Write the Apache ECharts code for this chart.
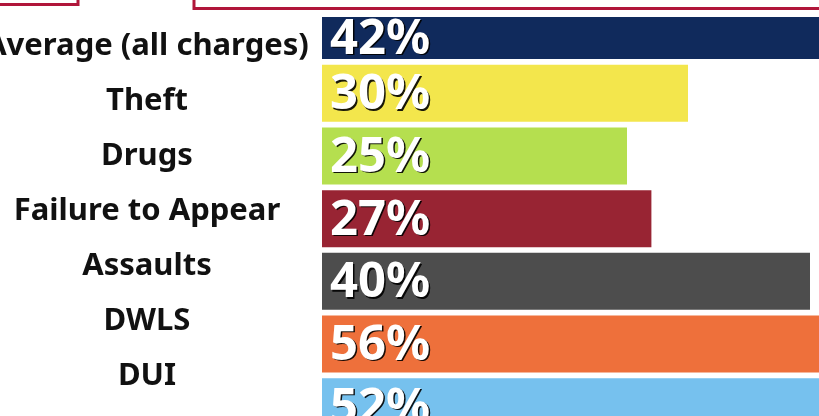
<!DOCTYPE html>
<html>
<head>
<meta charset="utf-8">
<script src="https://cdn.jsdelivr.net/npm/echarts@6/dist/echarts.min.js"></script>
<style>
  html, body { margin: 0; padding: 0; background: #fff; }
  #main { width: 819px; height: 416px; }
</style>
</head>
<body>
<div id="main"></div>
<script>
// categories shown on the left
var labels = ['Average (all charges)', 'Theft', 'Drugs', 'Failure to Appear', 'Assaults', 'DWLS', 'DUI'];
// bars
var avgName = ['Average (all charges)'];
var avgValue = [42];
var charges = ['Theft', 'Drugs', 'Failure to Appear', 'Assaults', 'DWLS', 'DUI'];
var values = [30, 25, 27, 40, 56, 52];
var colors = ['#f3e64c', '#b5df4f', '#982433', '#4d4d4d', '#ee703b', '#76c1ee'];
var avgColor = '#102a5c';

var myChart = echarts.init(document.getElementById('main'));

var valueLabel = {
    show: true,
    position: 'insideLeft',
    distance: 8,
    offset: [0, 2],
    formatter: '{c}%',
    color: '#fff',
    fontFamily: 'Noto Sans',
    fontWeight: 'bold',
    fontSize: 49,
    textShadowColor: 'rgba(0,0,0,0.9)',
    textShadowOffsetX: 1.5,
    textShadowOffsetY: 1.5,
    textShadowBlur: 0.5
};

// 12.2 px per percent
var xCommon = { type: 'value', min: 0, max: 50, show: false };

var option = {
    animation: false,
    grid: [
        { left: 322, width: 610, top: 17, height: 42, outerBoundsMode: 'none' },
        { left: 322, width: 610, top: 62, height: 376, outerBoundsMode: 'none' },
        { left: 322, width: 610, top: 18.5, height: 385, outerBoundsMode: 'none' }
    ],
    xAxis: [
        Object.assign({ gridIndex: 0 }, xCommon),
        Object.assign({ gridIndex: 1 }, xCommon),
        Object.assign({ gridIndex: 2 }, xCommon)
    ],
    yAxis: [
        { gridIndex: 0, type: 'category', data: avgName, show: false },
        { gridIndex: 1, type: 'category', data: charges, inverse: true, show: false },
        {
            gridIndex: 2, type: 'category', data: labels, inverse: true,
            axisLine: { show: false }, axisTick: { show: false }, splitLine: { show: false },
            axisLabel: {
                margin: 175,
                align: 'center',
                color: '#111',
                fontFamily: 'Noto Sans',
                fontWeight: 'bold',
                fontSize: 31
            }
        }
    ],
    graphic: [
        { type: 'polyline', shape: { points: [[0, 4.5], [78, 4.5], [78, 0]] }, style: { stroke: '#b0163a', lineWidth: 3, fill: null } },
        { type: 'polyline', shape: { points: [[194, 0], [194, 8.5], [819, 8.5]] }, style: { stroke: '#b0163a', lineWidth: 3, fill: null } }
    ],
    series: [
        {
            type: 'bar', xAxisIndex: 0, yAxisIndex: 0,
            barWidth: 42,
            data: avgValue,
            itemStyle: { color: avgColor },
            label: valueLabel
        },
        {
            type: 'bar', xAxisIndex: 1, yAxisIndex: 1,
            barWidth: 57,
            data: values.map(function (v, i) {
                return { value: v, itemStyle: { color: colors[i] } };
            }),
            label: valueLabel
        }
    ]
};

myChart.setOption(option);
</script>
</body>
</html>
